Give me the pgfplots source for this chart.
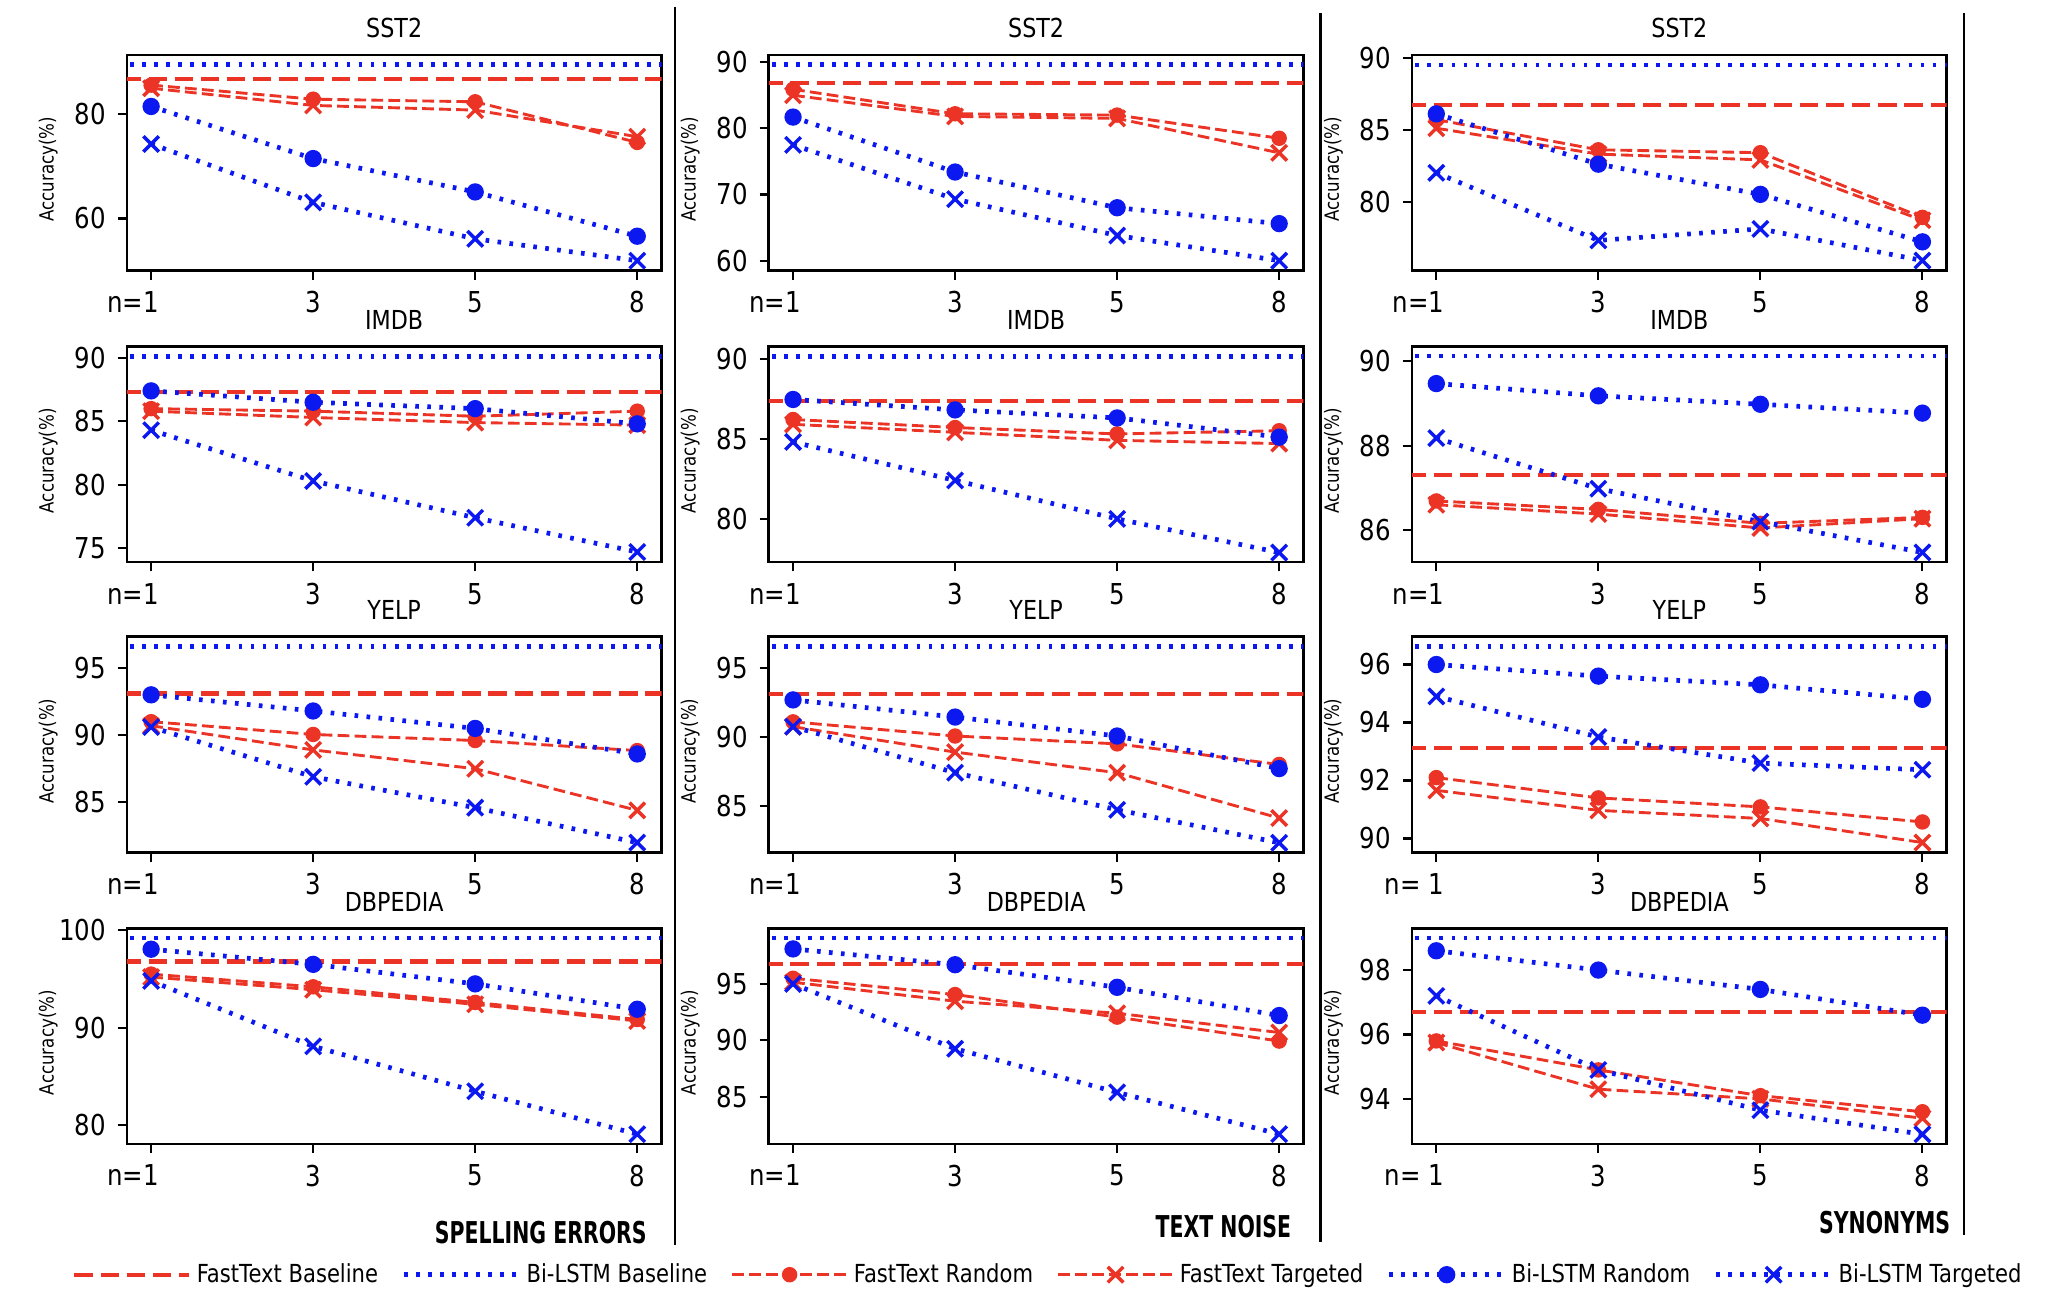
\documentclass[border=0pt]{standalone}
\usepackage{fontspec}
\setmainfont{DejaVu Sans}[FakeStretch=0.85]
\newfontfamily\labelfont{DejaVu Sans}[FakeStretch=0.68]
\usepackage{pgfplots}
\pgfplotsset{compat=1.18}

\definecolor{ftred}{RGB}{235,52,38}
\definecolor{blblue}{RGB}{12,24,240}

\pgfplotsset{
  ftbase/.style={color=ftred, line width=1.6pt, dash pattern=on 7pt off 3pt, mark=none},
  blbase/.style={color=blblue, line width=1.8pt, dash pattern=on 1.4pt off 3.2pt, mark=none},
  ftrand/.style={color=ftred, line width=1.1pt, dash pattern=on 4.5pt off 2pt,
    mark=*, mark size=2.4pt, mark options={solid}},
  fttarg/.style={color=ftred, line width=1.1pt, dash pattern=on 4.5pt off 2pt,
    mark=x, mark size=4.2pt, mark options={solid, line width=1.3pt}},
  blrand/.style={color=blblue, line width=1.8pt, dash pattern=on 1.4pt off 3.2pt,
    mark=*, mark size=2.4pt, mark options={solid}},
  bltarg/.style={color=blblue, line width=1.8pt, dash pattern=on 1.4pt off 3.2pt,
    mark=x, mark size=4.2pt, mark options={solid, line width=1.3pt}},
  panel/.style={
    anchor=south west,
    width=204.5pt, height=82.5pt, scale only axis,
    xmin=-0.15, xmax=3.15,
    xtick={0,1,2,3}, xticklabels={\llap{n=}1,3,5,8},
    tick pos=left, tick align=outside,
    major tick length=3.5pt,
    tick style={black, line width=0.8pt},
    axis line style={line width=1pt},
    /pgf/number format/assume math mode=true,
    tick label style={font=\fontsize{11}{13}\selectfont},
    xticklabel style={yshift=-1pt},
    yticklabel style={xshift=-1pt},
    title style={font=\fontsize{10}{12}\selectfont, at={(0.5,1)}, anchor=south, yshift=-3pt},
    ylabel={Accuracy(\%)},
    ylabel style={font=\fontsize{7.5}{9}\selectfont, at={(axis description cs:-0.147,0.47)},
      anchor=center},
    legend image code/.code={%
      \draw[mark repeat=2, mark phase=2, #1] plot coordinates {(0pt,0pt) (22pt,0pt) (44pt,0pt)};},
  },
}

\newcommand\sixlines[6]{%
  \addplot[ftbase] coordinates {(-0.5,#1) (3.5,#1)};
  \addplot[blbase] coordinates {(-0.5,#2) (3.5,#2)};
  \addplot[ftrand] coordinates {#3};
  \addplot[fttarg] coordinates {#4};
  \addplot[blrand] coordinates {#5};
  \addplot[bltarg] coordinates {#6};
}

\begin{document}
\begin{tikzpicture}
\useasboundingbox (0,0) rectangle (784pt,499.5pt);

% ---- row 1: SST2 ----
\begin{axis}[panel, at={(48.5pt,396pt)}, title={SST2}, ymin=50, ymax=91.4, ytick={60,80}]
\sixlines{86.8}{89.5}
  {(0,85.6) (1,82.9) (2,82.4) (3,74.6)}
  {(0,85.0) (1,81.7) (2,80.8) (3,75.7)}
  {(0,81.5) (1,71.5) (2,65.1) (3,56.6)}
  {(0,74.3) (1,63.1) (2,56.1) (3,51.9)}
\end{axis}
\begin{axis}[panel, at={(294pt,396pt)}, title={SST2}, ymin=58.5, ymax=91.1, ytick={60,70,80,90}]
\sixlines{86.8}{89.6}
  {(0,85.9) (1,82.2) (2,82.0) (3,78.5)}
  {(0,85.0) (1,81.8) (2,81.5) (3,76.3)}
  {(0,81.7) (1,73.4) (2,68.0) (3,65.6)}
  {(0,77.5) (1,69.3) (2,63.8) (3,60.0)}
\end{axis}
\begin{axis}[panel, at={(540pt,396pt)}, title={SST2}, ymin=75.2, ymax=90.2, ytick={80,85,90}]
\sixlines{86.7}{89.5}
  {(0,85.7) (1,83.6) (2,83.4) (3,78.9)}
  {(0,85.1) (1,83.3) (2,82.9) (3,78.7)}
  {(0,86.1) (1,82.6) (2,80.5) (3,77.2)}
  {(0,82.0) (1,77.3) (2,78.1) (3,75.9)}
\end{axis}

% ---- row 2: IMDB ----
\begin{axis}[panel, at={(48.5pt,284.5pt)}, title={IMDB}, ymin=73.9, ymax=90.9, ytick={75,80,85,90}]
\sixlines{87.3}{90.1}
  {(0,86.0) (1,85.8) (2,85.4) (3,85.8)}
  {(0,85.8) (1,85.3) (2,84.9) (3,84.7)}
  {(0,87.4) (1,86.5) (2,86.0) (3,84.8)}
  {(0,84.3) (1,80.3) (2,77.4) (3,74.7)}
\end{axis}
\begin{axis}[panel, at={(294pt,284.5pt)}, title={IMDB}, ymin=77.3, ymax=90.76, ytick={80,85,90}]
\sixlines{87.35}{90.15}
  {(0,86.2) (1,85.7) (2,85.3) (3,85.5)}
  {(0,85.9) (1,85.4) (2,84.9) (3,84.7)}
  {(0,87.45) (1,86.8) (2,86.3) (3,85.1)}
  {(0,84.8) (1,82.4) (2,80.0) (3,77.9)}
\end{axis}
\begin{axis}[panel, at={(540pt,284.5pt)}, title={IMDB}, ymin=85.24, ymax=90.35, ytick={86,88,90}]
\sixlines{87.3}{90.12}
  {(0,86.69) (1,86.49) (2,86.16) (3,86.3)}
  {(0,86.6) (1,86.38) (2,86.05) (3,86.27)}
  {(0,89.47) (1,89.18) (2,88.98) (3,88.77)}
  {(0,88.18) (1,86.98) (2,86.2) (3,85.47)}
\end{axis}

% ---- row 3: YELP ----
\begin{axis}[panel, at={(48.5pt,173.5pt)}, title={YELP}, ymin=81.27, ymax=97.33, ytick={85,90,95}]
\sixlines{93.1}{96.6}
  {(0,91.0) (1,90.05) (2,89.6) (3,88.85)}
  {(0,90.7) (1,88.9) (2,87.5) (3,84.4)}
  {(0,93.0) (1,91.8) (2,90.5) (3,88.6)}
  {(0,90.6) (1,86.9) (2,84.6) (3,82.0)}
\end{axis}
\begin{axis}[panel, at={(294pt,173.5pt)}, title={YELP}, ymin=81.6, ymax=97.3, ytick={85,90,95}]
\sixlines{93.1}{96.6}
  {(0,91.1) (1,90.07) (2,89.5) (3,88.0)}
  {(0,90.75) (1,88.9) (2,87.4) (3,84.1)}
  {(0,92.7) (1,91.45) (2,90.07) (3,87.7)}
  {(0,90.75) (1,87.4) (2,84.7) (3,82.3)}
\end{axis}
\begin{axis}[panel, at={(540pt,173.5pt)}, title={YELP}, ymin=89.52, ymax=96.96, ytick={90,92,94,96},
  xticklabels={\llap{n= }1,3,5,8}]
\sixlines{93.11}{96.62}
  {(0,92.1) (1,91.4) (2,91.09) (3,90.57)}
  {(0,91.66) (1,90.97) (2,90.69) (3,89.86)}
  {(0,96.0) (1,95.6) (2,95.3) (3,94.8)}
  {(0,94.9) (1,93.5) (2,92.6) (3,92.37)}
\end{axis}

% ---- row 4: DBPEDIA ----
\begin{axis}[panel, at={(48.5pt,62pt)}, title={DBPEDIA}, ymin=78.1, ymax=100.2, ytick={80,90,100}]
\sixlines{96.8}{99.2}
  {(0,95.5) (1,94.2) (2,92.6) (3,90.85)}
  {(0,95.2) (1,93.9) (2,92.4) (3,90.7)}
  {(0,98.05) (1,96.5) (2,94.5) (3,91.9)}
  {(0,94.8) (1,88.1) (2,83.5) (3,79.1)}
\end{axis}
\begin{axis}[panel, at={(294pt,62pt)}, title={DBPEDIA}, ymin=80.83, ymax=99.93, ytick={85,90,95},
  legend columns=6, legend cell align=left,
  legend style={at={(0.525,-0.606)}, anchor=center, draw=none, fill=none,
    font=\fontsize{9.5}{11}\selectfont,
    /tikz/every even column/.append style={column sep=7pt}}]
\sixlines{96.76}{99.06}
  {(0,95.5) (1,94.06) (2,92.06) (3,89.94)}
  {(0,95.15) (1,93.47) (2,92.4) (3,90.7)}
  {(0,98.1) (1,96.7) (2,94.7) (3,92.2)}
  {(0,95.0) (1,89.26) (2,85.4) (3,81.7)}
\legend{FastText Baseline, Bi-LSTM Baseline, FastText Random, FastText Targeted, Bi-LSTM Random, Bi-LSTM Targeted}
\end{axis}
\begin{axis}[panel, at={(540pt,62pt)}, title={DBPEDIA}, ymin=92.6, ymax=99.3, ytick={94,96,98},
  xticklabels={\llap{n= }1,3,5,8}]
\sixlines{96.7}{99.0}
  {(0,95.8) (1,94.9) (2,94.1) (3,93.6)}
  {(0,95.75) (1,94.3) (2,94.0) (3,93.4)}
  {(0,98.6) (1,98.0) (2,97.4) (3,96.6)}
  {(0,97.2) (1,94.9) (2,93.65) (3,92.9)}
\end{axis}

% separators and group labels
\draw[line width=0.8pt] (258pt,497pt) -- (258pt,23.5pt);
\draw[line width=0.8pt] (505pt,494.5pt) -- (505pt,24.5pt);
\draw[line width=0.8pt] (751pt,494.5pt) -- (751pt,27pt);
\node[anchor=east, inner sep=0pt, font=\labelfont\bfseries\fontsize{11.5}{13}\selectfont] at (247.5pt,28pt) {SPELLING ERRORS};
\node[anchor=east, inner sep=0pt, font=\labelfont\bfseries\fontsize{11.5}{13}\selectfont] at (494pt,30.5pt) {TEXT NOISE};
\node[anchor=east, inner sep=0pt, font=\labelfont\bfseries\fontsize{11.5}{13}\selectfont] at (746pt,32pt) {SYNONYMS};
\end{tikzpicture}
\end{document}
